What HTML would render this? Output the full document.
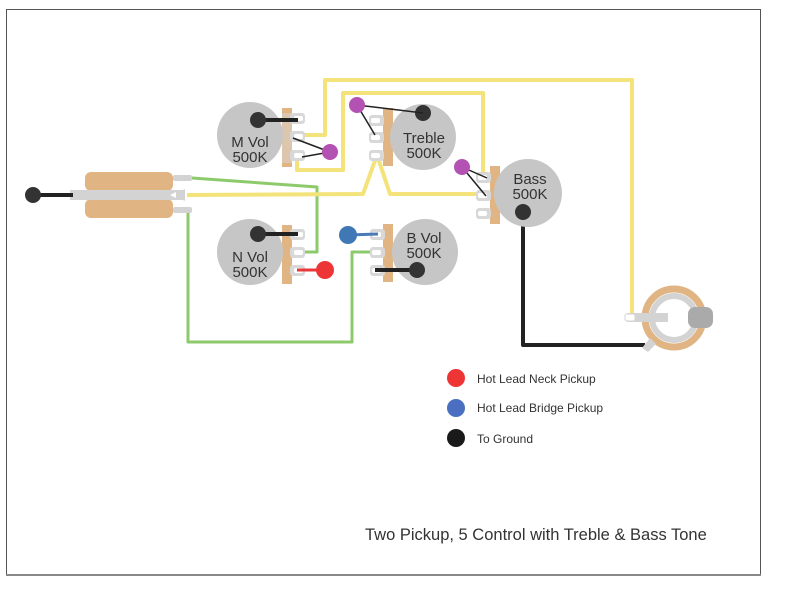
<!DOCTYPE html>
<html><head><meta charset="utf-8"><style>
html,body{margin:0;padding:0;background:#fff}
svg{display:block}
text{font-family:"Liberation Sans",sans-serif}
</style></head><body>
<svg width="792" height="612" viewBox="0 0 792 612" xmlns="http://www.w3.org/2000/svg">
<rect x="6.5" y="9.5" width="754" height="566" fill="#fff" stroke="#555" stroke-width="1"/>
<line x1="6" y1="575" x2="761" y2="575" stroke="#888" stroke-width="2"/>
<g fill="none" stroke-linejoin="round">
<!-- green wires -->
<polyline points="192,178 317,187 317,252 302,252" stroke="#8dca6c" stroke-width="3"/>
<polyline points="188,212 188,342 352,342 352,252 373,252" stroke="#8dca6c" stroke-width="3"/>
<!-- yellow wires -->
<polyline points="187,195 363,194 377,155 390,194 480,194" stroke="#f3e37a" stroke-width="4"/>
<polyline points="298,135 325,135 325,80 632,80 632,317 627,317" stroke="#f3e37a" stroke-width="4"/>
<polyline points="297,156 297,170 343,170 343,93 483,93 483,177" stroke="#f3e37a" stroke-width="4"/>
<!-- black ground -->
<polyline points="523,212 523,345 645,345" stroke="#222" stroke-width="4"/>
</g>
<!-- switch / pickup -->
<rect x="85" y="172" width="88" height="19" rx="6" fill="#e0b583"/>
<rect x="85" y="199" width="88" height="19" rx="6" fill="#e0b583"/>
<rect x="70" y="190" width="113" height="10" fill="#d3d3d3"/>
<path d="M172 195 L185 189 L185 201 Z" fill="#d3d3d3"/>
<path d="M170 195 L176 192 L176 198Z" fill="#fff"/>
<rect x="173" y="175" width="19" height="6" rx="2" fill="#d3d3d3"/>
<rect x="173" y="207" width="19" height="6" rx="2" fill="#d3d3d3"/>
<line x1="33" y1="195" x2="73" y2="195" stroke="#222" stroke-width="4"/>
<circle cx="33" cy="195" r="8" fill="#333"/>

<!-- pots: left-side lugs (M Vol, N Vol) -->
<g id="mvol">
<rect x="282" y="108" width="10" height="59" fill="#e0b583"/>
<rect x="282" y="113" width="10" height="50" fill="#d8d8d8" opacity=".5"/>
<rect x="290" y="113" width="15" height="11" rx="3" fill="#d8d8d8"/><rect x="294" y="116" width="9" height="5" rx="2" fill="#fff"/>
<rect x="290" y="131" width="15" height="11" rx="3" fill="#d8d8d8"/><rect x="294" y="134" width="9" height="5" rx="2" fill="#fff"/>
<rect x="290" y="150" width="15" height="11" rx="3" fill="#d8d8d8"/><rect x="294" y="153" width="9" height="5" rx="2" fill="#fff"/>
<circle cx="250" cy="135" r="33" fill="#c6c6c6"/>
<line x1="258" y1="120" x2="298" y2="120" stroke="#222" stroke-width="4"/>
<circle cx="258" cy="120" r="8" fill="#333"/>
<text x="250" y="147" font-size="15" text-anchor="middle" fill="#333">M Vol</text>
<text x="250" y="162" font-size="15" text-anchor="middle" fill="#333">500K</text>
</g>
<line x1="293" y1="138" x2="330" y2="152" stroke="#222" stroke-width="1.5"/>
<line x1="302" y1="157" x2="330" y2="152" stroke="#222" stroke-width="1.5"/>
<circle cx="330" cy="152" r="8" fill="#b452b4"/>

<g>
<rect x="282" y="225" width="10" height="59" fill="#e0b583"/>
<rect x="290" y="229" width="15" height="11" rx="3" fill="#d8d8d8"/><rect x="294" y="232" width="9" height="5" rx="2" fill="#fff"/>
<rect x="290" y="247" width="15" height="11" rx="3" fill="#d8d8d8"/><rect x="294" y="250" width="9" height="5" rx="2" fill="#fff"/>
<rect x="290" y="265" width="15" height="11" rx="3" fill="#d8d8d8"/><rect x="294" y="268" width="9" height="5" rx="2" fill="#fff"/>
<circle cx="250" cy="252" r="33" fill="#c6c6c6"/>
<line x1="258" y1="234" x2="298" y2="234" stroke="#222" stroke-width="4"/>
<circle cx="258" cy="234" r="8" fill="#333"/>
<text x="250" y="262" font-size="15" text-anchor="middle" fill="#333">N Vol</text>
<text x="250" y="277" font-size="15" text-anchor="middle" fill="#333">500K</text>
</g>
<line x1="297" y1="270" x2="325" y2="270" stroke="#e8383a" stroke-width="3"/>
<circle cx="325" cy="270" r="9" fill="#ee3535"/>

<!-- Treble -->
<g>
<rect x="383" y="108" width="10" height="58" fill="#e0b583"/>
<rect x="369" y="115" width="15" height="11" rx="3" fill="#d8d8d8"/><rect x="371" y="118" width="9" height="5" rx="2" fill="#fff"/>
<rect x="369" y="132" width="15" height="11" rx="3" fill="#d8d8d8"/><rect x="371" y="135" width="9" height="5" rx="2" fill="#fff"/>
<rect x="369" y="150" width="15" height="11" rx="3" fill="#d8d8d8"/><rect x="371" y="153" width="9" height="5" rx="2" fill="#fff"/>
<circle cx="423" cy="137" r="33" fill="#c6c6c6"/>
<circle cx="423" cy="113" r="8" fill="#333"/>
<text x="424" y="143" font-size="15" text-anchor="middle" fill="#333">Treble</text>
<text x="424" y="158" font-size="15" text-anchor="middle" fill="#333">500K</text>
</g>
<line x1="357" y1="105" x2="423" y2="113" stroke="#222" stroke-width="1.5"/>
<line x1="357" y1="105" x2="375" y2="135" stroke="#222" stroke-width="1.5"/>
<circle cx="357" cy="105" r="8" fill="#b452b4"/>

<!-- Bass -->
<g>
<rect x="490" y="166" width="10" height="58" fill="#e0b583"/>
<rect x="476" y="172" width="15" height="11" rx="3" fill="#d8d8d8"/><rect x="478" y="175" width="9" height="5" rx="2" fill="#fff"/>
<rect x="476" y="190" width="15" height="11" rx="3" fill="#d8d8d8"/><rect x="478" y="193" width="9" height="5" rx="2" fill="#fff"/>
<rect x="476" y="208" width="15" height="11" rx="3" fill="#d8d8d8"/><rect x="478" y="211" width="9" height="5" rx="2" fill="#fff"/>
<circle cx="528" cy="193" r="34" fill="#c6c6c6"/>
<circle cx="523" cy="212" r="8" fill="#333"/>
<text x="530" y="184" font-size="15" text-anchor="middle" fill="#333">Bass</text>
<text x="530" y="199" font-size="15" text-anchor="middle" fill="#333">500K</text>
</g>
<line x1="462" y1="167" x2="487" y2="178" stroke="#222" stroke-width="1.5"/>
<line x1="462" y1="167" x2="486" y2="196" stroke="#222" stroke-width="1.5"/>
<circle cx="462" cy="167" r="8" fill="#b452b4"/>

<!-- B Vol -->
<g>
<rect x="383" y="224" width="10" height="58" fill="#e0b583"/>
<rect x="370" y="229" width="15" height="11" rx="3" fill="#d8d8d8"/><rect x="372" y="232" width="9" height="5" rx="2" fill="#fff"/>
<rect x="370" y="247" width="15" height="11" rx="3" fill="#d8d8d8"/><rect x="372" y="250" width="9" height="5" rx="2" fill="#fff"/>
<rect x="370" y="265" width="15" height="11" rx="3" fill="#d8d8d8"/><rect x="372" y="268" width="9" height="5" rx="2" fill="#fff"/>
<circle cx="425" cy="252" r="33" fill="#c6c6c6"/>
<line x1="375" y1="270" x2="417" y2="270" stroke="#222" stroke-width="4"/>
<circle cx="417" cy="270" r="8" fill="#333"/>
<text x="424" y="243" font-size="15" text-anchor="middle" fill="#333">B Vol</text>
<text x="424" y="258" font-size="15" text-anchor="middle" fill="#333">500K</text>
</g>
<line x1="348" y1="235" x2="378" y2="234" stroke="#4a7ab5" stroke-width="3"/>
<circle cx="348" cy="235" r="9" fill="#3f78b5"/>

<!-- Jack -->
<circle cx="674" cy="318" r="29" fill="none" stroke="#e0b583" stroke-width="7"/>
<circle cx="674" cy="318" r="22" fill="none" stroke="#d3d3d3" stroke-width="6"/>
<rect x="688" y="307" width="25" height="21" rx="7" fill="#aaa"/>
<rect x="627" y="313" width="41" height="9" fill="#d3d3d3"/>
<rect x="625" y="314" width="10" height="7" rx="2" fill="#fff" stroke="#d3d3d3"/>
<path d="M642 348 L650 338 L656 344 L648 352Z" fill="#d3d3d3"/>

<!-- legend -->
<circle cx="456" cy="378" r="9" fill="#ee3535"/>
<text x="477" y="383" font-size="12" fill="#333">Hot Lead Neck Pickup</text>
<circle cx="456" cy="408" r="9" fill="#4a6ec0"/>
<text x="477" y="412" font-size="12" fill="#333">Hot Lead Bridge Pickup</text>
<circle cx="456" cy="438" r="9" fill="#1a1a1a"/>
<text x="477" y="443" font-size="12" fill="#333">To Ground</text>

<text x="365" y="540" font-size="16.5" fill="#333">Two Pickup, 5 Control with Treble &amp; Bass Tone</text>
</svg>
</body></html>
